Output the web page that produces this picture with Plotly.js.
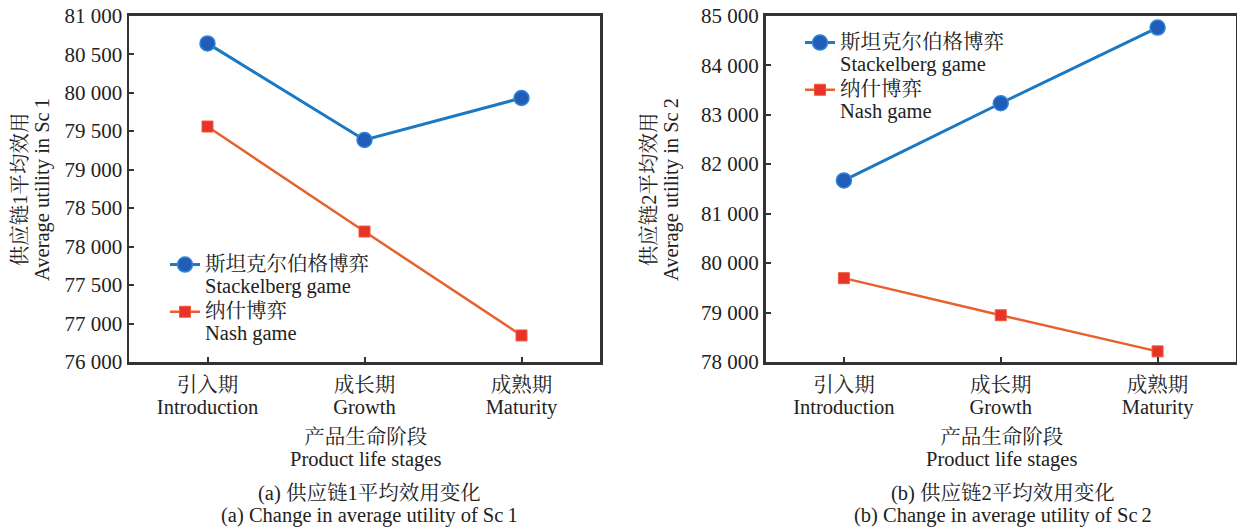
<!DOCTYPE html>
<html>
<head>
<meta charset="utf-8">
<script src="https://cdn.plot.ly/plotly-3.0.1.min.js"></script>
<style>html,body{margin:0;padding:0;background:#fff;}#chart{width:1237px;height:529px;}</style>
</head>
<body>
<div id="chart"></div>
<script>
// ---- data ----
const stagesCn = ['引入期', '成长期', '成熟期'];
const stagesEn = ['Introduction', 'Growth', 'Maturity'];
const sc1Stackelberg = [80640, 79385, 79930];
const sc1Nash = [79560, 78195, 76845];
const sc2Stackelberg = [81670, 83230, 84760];
const sc2Nash = [79695, 78945, 78215];
const seriesCn = ['斯坦克尔伯格博弈', '纳什博弈'];
const seriesEn = ['Stackelberg game', 'Nash game'];
const yTickVals1 = [76500, 77000, 77500, 78000, 78500, 79000, 79500, 80000, 80500, 81000];
const yTickText1 = ['76 000', '77 000', '77 500', '78 000', '78 500', '79 000', '79 500', '80 000', '80 500', '81 000'];
const yTickVals2 = [78000, 79000, 80000, 81000, 82000, 83000, 84000, 85000];
const yTickText2 = ['78 000', '79 000', '80 000', '81 000', '82 000', '83 000', '84 000', '85 000'];
const yTitle1 = ['供应链1平均效用', 'Average utility in Sc\u20091'];
const yTitle2 = ['供应链2平均效用', 'Average utility in Sc\u20092'];
const xTitle = ['产品生命阶段', 'Product life stages'];
const caption1 = ['(a) 供应链1平均效用变化', '(a) Change in average utility of Sc\u20091'];
const caption2 = ['(b) 供应链2平均效用变化', '(b) Change in average utility of Sc\u20092'];

const W = 1237, H = 529;
const FONT = '"Liberation Serif", "Noto Serif CJK SC", "Noto Sans CJK SC", serif';
const TXT = '#222';
const BLUE_LINE = '#1b78c2', BLUE_MK = '#1f5db8';
const ORANGE_LINE = '#e8602c', RED_MK = '#e8332a';
const BASE = 17;     // controls line spacing
const BIG = 20.5;    // visible glyph size

function lines(arr, size) {
  return arr.map(l => '<span style="font-size:' + (size || BIG) + 'px">' + l + '</span>').join('<br>');
}

const catLabels = stagesCn.map((c, i) => lines([c, stagesEn[i]]));
const seriesNames = seriesCn.map((c, i) => lines([c, seriesEn[i]]));
const xIdx = stagesCn.map((_, i) => i);

function px(x) { return x / W; }
function py(y) { return 1 - y / H; }

function stk(y, xa, ya, leg) {
  return {x: xIdx, y: y, xaxis: xa, yaxis: ya, type: 'scatter', mode: 'lines+markers',
    name: seriesNames[0], legend: leg,
    line: {color: BLUE_LINE, width: 3},
    marker: {symbol: 'circle', size: 15, color: BLUE_MK, line: {color: '#2f86d6', width: 1.5}}};
}
function nash(y, xa, ya, leg) {
  return {x: xIdx, y: y, xaxis: xa, yaxis: ya, type: 'scatter', mode: 'lines+markers',
    name: seriesNames[1], legend: leg,
    line: {color: ORANGE_LINE, width: 2.5},
    marker: {symbol: 'square', size: 11, color: RED_MK, line: {color: '#f05a3a', width: 1}}};
}

const data = [
  stk(sc1Stackelberg, 'x', 'y', 'legend'),
  nash(sc1Nash, 'x', 'y', 'legend'),
  stk(sc2Stackelberg, 'x2', 'y2', 'legend2'),
  nash(sc2Nash, 'x2', 'y2', 'legend2')
];

const axisCommon = {
  showline: true, mirror: true, linecolor: '#333', linewidth: 2.5,
  ticks: 'inside', ticklen: 5, tickwidth: 2, tickcolor: '#333',
  showgrid: false, zeroline: false,
  tickfont: {family: FONT, size: 21, color: TXT}
};

function xAxis(domain, anchor) {
  return Object.assign({}, axisCommon, {
    domain: domain, anchor: anchor, range: [-0.5, 2.5],
    tickmode: 'array', tickvals: xIdx, ticktext: catLabels,
    ticklabelstandoff: 7,
    tickfont: {family: FONT, size: BASE, color: TXT}
  });
}
function yAxis(domain, anchor, range, vals, text) {
  return Object.assign({}, axisCommon, {
    domain: domain, anchor: anchor, range: range,
    tickmode: 'array', tickvals: vals, ticktext: text
  });
}

const yDom = [py(362), py(15.7)];

function legendCfg(x, y) {
  return {x: px(x), y: py(y), xanchor: 'left', yanchor: 'top',
    bgcolor: 'rgba(0,0,0,0)', borderwidth: 0, valign: 'top', tracegroupgap: 0,
    font: {family: FONT, size: BASE, color: TXT}};
}

function ann(textLines, x, y, opts) {
  return Object.assign({text: lines(textLines), x: px(x), y: py(y), xref: 'paper', yref: 'paper',
    showarrow: false, xanchor: 'center', yanchor: 'middle',
    font: {family: FONT, size: BASE, color: TXT}}, opts || {});
}

const layout = {
  width: W, height: H,
  margin: {l: 0, r: 0, t: 0, b: 0},
  paper_bgcolor: '#fff', plot_bgcolor: '#fff',
  showlegend: true,
  xaxis: xAxis([px(129), px(600)], 'y'),
  yaxis: yAxis(yDom, 'x', [76500, 81000], yTickVals1, yTickText1),
  xaxis2: xAxis([px(765.5), px(1236)], 'y2'),
  yaxis2: yAxis(yDom, 'x2', [78000, 85000], yTickVals2, yTickText2),
  legend: legendCfg(165, 247),
  legend2: legendCfg(800, 25),
  annotations: [
    ann(yTitle1, 31, 190, {textangle: -90}),
    ann(yTitle2, 660, 190, {textangle: -90}),
    ann(xTitle, 365, 448),
    ann(xTitle, 1001, 448),
    ann(caption1, 369, 504),
    ann(caption2, 1003, 504)
  ]
};

Plotly.newPlot('chart', data, layout, {displayModeBar: false, staticPlot: true});
</script>
</body>
</html>
